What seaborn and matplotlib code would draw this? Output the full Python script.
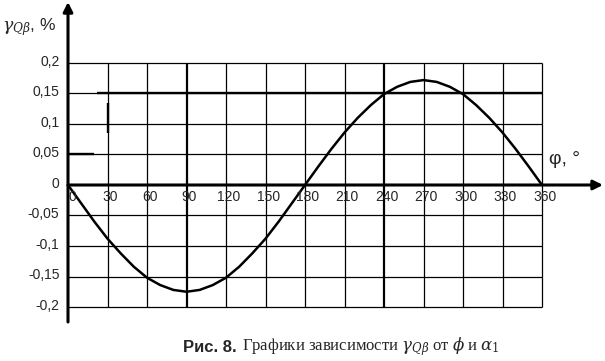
import numpy as np
import pandas as pd
import matplotlib.pyplot as plt
import seaborn as sns

# ----------- data -----------
phi = [0, 10, 20, 30, 40, 50, 60, 70, 80, 90, 100, 110, 120, 130, 140, 150, 160, 170, 180,
       190, 200, 210, 220, 230, 240, 250, 260, 270, 280, 290, 300, 310, 320, 330, 340, 350, 360]
gamma = [0.0, -0.030, -0.060, -0.088, -0.112, -0.134, -0.152, -0.164, -0.172, -0.175,
         -0.172, -0.164, -0.152, -0.134, -0.112, -0.088, -0.060, -0.030, 0.0,
         0.030, 0.059, 0.086, 0.110, 0.131, 0.149, 0.161, 0.169, 0.172,
         0.169, 0.161, 0.149, 0.131, 0.110, 0.086, 0.059, 0.030, 0.0]

x_ticks = [0, 30, 60, 90, 120, 150, 180, 210, 240, 270, 300, 330, 360]
y_ticks = [0.2, 0.15, 0.1, 0.05, 0, -0.05, -0.1, -0.15, -0.2]
y_labels = ["0,2", "0,15", "0,1", "0,05", "0", "-0,05", "-0,1", "-0,15", "-0,2"]

df = pd.DataFrame({"phi": phi, "gamma": gamma})

sns.set_theme(style="white")
plt.rcParams['font.family'] = ['Liberation Sans', 'DejaVu Sans']
plt.rcParams['mathtext.fontset'] = 'dejavuserif'

fig = plt.figure(figsize=(6.05, 3.61), dpi=100)
# x: 0 deg at px 68, 360 deg at px 542 ; y: 0 at px 185, 0.2 at px 63
sx = (542 - 68) / 360.0
sy = (185 - 63) / 0.2
ax = fig.add_axes([0, 0, 1, 1])
ax.set_xlim(-68 / sx, (605 - 68) / sx)
ax.set_ylim(-(361 - 185) / sy, 185 / sy)
ax.axis('off')

# grid
for v in x_ticks[1:]:
    lw = 1.6 if v in (90, 240) else 0.9
    ax.vlines(v, -0.2, 0.2, color='black', lw=lw, zorder=1)
for v in y_ticks:
    if v == 0:
        continue
    ax.hlines(v, 0, 360, color='black', lw=0.9, zorder=1)
ax.hlines(0.15, 22, 360, color='black', lw=1.7, zorder=1)
ax.hlines(0.05, 0, 20, color='black', lw=1.7, zorder=1)
ax.vlines(30, 0.085, 0.135, color='black', lw=1.7, zorder=1)

# axes with arrows
ax.annotate('', xy=(0, 183 / sy), xytext=(0, -(322 - 185) / sy),
            arrowprops=dict(arrowstyle='-|>', color='black', lw=2.2,
                            mutation_scale=14, shrinkA=0, shrinkB=0))
ax.annotate('', xy=((603 - 68) / sx, 0), xytext=(0, 0),
            arrowprops=dict(arrowstyle='-|>', color='black', lw=2.2,
                            mutation_scale=14, shrinkA=0, shrinkB=0))

sns.lineplot(data=df, x="phi", y="gamma", ax=ax, color='black', lw=1.8, zorder=3)

for v, lab in zip(y_ticks, y_labels):
    ax.text(-6.5, v + 0.002, lab, ha='right', va='center', fontsize=10)
for v in x_ticks:
    ax.text(v + (3 if v == 0 else 2), -0.02, str(v), ha='center', va='center', fontsize=10)

ax.text((2 - 68) / sx, (185 - 27) / sy, r"$\gamma_{Q\beta}$, %", ha='left', va='center', fontsize=12.5)
ax.text((549 - 68) / sx, (185 - 160) / sy, r"φ, °", ha='left', va='center', fontsize=14)

fig.text(183 / 605, 1 - 347 / 361, "Рис. 8.", ha='left', va='center', fontsize=12, fontweight='bold')
fig.text(242 / 605, 1 - 347 / 361,
         r"Графики зависимости $\gamma_{Q\beta}$ от $\phi$ и $\alpha_1$",
         ha='left', va='center', fontsize=12, family=['Liberation Serif', 'DejaVu Serif'])

fig.savefig("out.png", dpi=100)
